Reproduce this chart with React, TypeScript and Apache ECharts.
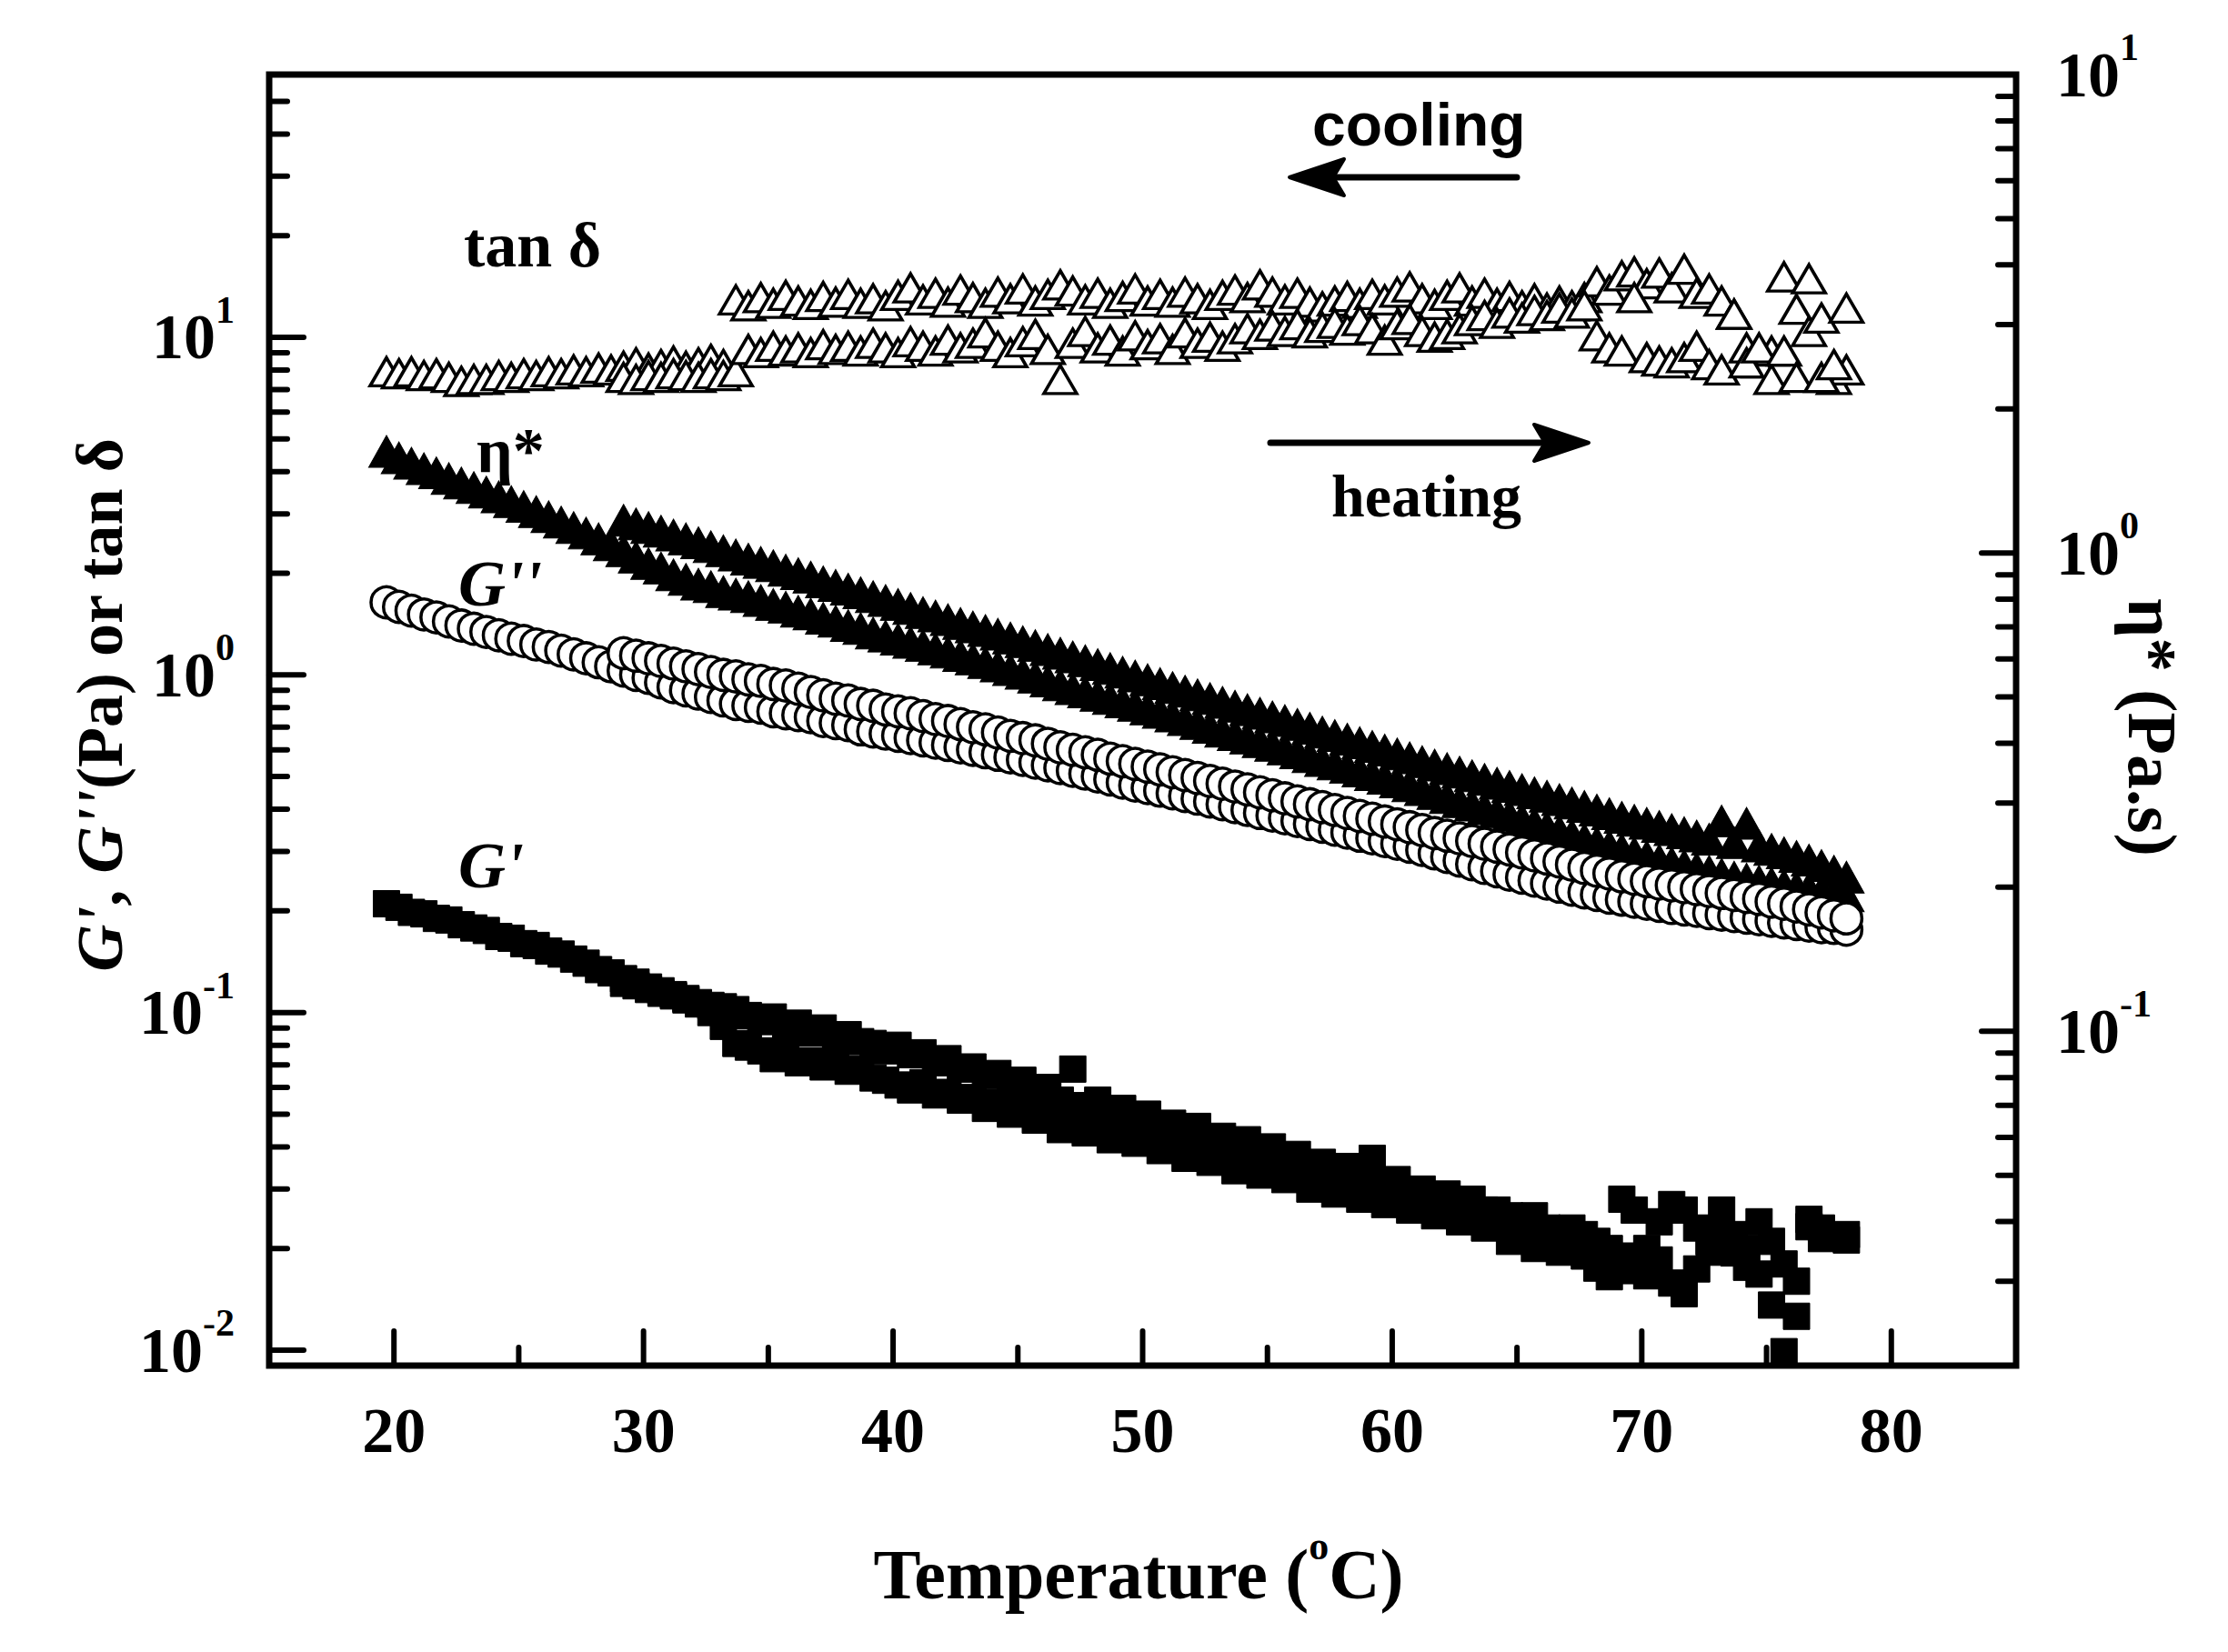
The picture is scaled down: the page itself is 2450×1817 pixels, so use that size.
import { useEffect, useRef } from 'react';
import * as echarts from 'echarts';

const SERIF = '"Liberation Serif", "Times New Roman", serif';
const SANS = '"Liberation Sans", Arial, sans-serif';

// heating run, temperature (°C)
const heatT = [
  19.7, 20.2, 20.7, 21.2, 21.7, 22.2, 22.7, 23.2, 23.7, 24.2,
  24.7, 25.2, 25.7, 26.2, 26.7, 27.2, 27.7, 28.2, 28.7, 29.2,
  29.7, 30.2, 30.7, 31.2, 31.7, 32.2, 32.7, 33.2, 33.7, 34.2,
  34.7, 35.2, 35.7, 36.2, 36.7, 37.2, 37.7, 38.2, 38.7, 39.2,
  39.7, 40.2, 40.7, 41.2, 41.7, 42.2, 42.7, 43.2, 43.7, 44.2,
  44.7, 45.2, 45.7, 46.2, 46.7, 47.2, 47.7, 48.2, 48.7, 49.2,
  49.7, 50.2, 50.7, 51.2, 51.7, 52.2, 52.7, 53.2, 53.7, 54.2,
  54.7, 55.2, 55.7, 56.2, 56.7, 57.2, 57.7, 58.2, 58.7, 59.2,
  59.7, 60.2, 60.7, 61.2, 61.7, 62.2, 62.7, 63.2, 63.7, 64.2,
  64.7, 65.2, 65.7, 66.2, 66.7, 67.2, 67.7, 68.2, 68.7, 69.2,
  69.7, 70.2, 70.7, 71.2, 71.7, 72.2, 72.7, 73.2, 73.7, 74.2,
  74.7, 75.2, 75.7, 76.2, 76.7, 77.2, 77.7, 78.2
];

// cooling run, temperature (°C)
const coolT = [
  29.2, 29.7, 30.2, 30.7, 31.2, 31.7, 32.2, 32.7, 33.2, 33.7,
  34.2, 34.7, 35.2, 35.7, 36.2, 36.7, 37.2, 37.7, 38.2, 38.7,
  39.2, 39.7, 40.2, 40.7, 41.2, 41.7, 42.2, 42.7, 43.2, 43.7,
  44.2, 44.7, 45.2, 45.7, 46.2, 46.7, 47.2, 47.7, 48.2, 48.7,
  49.2, 49.7, 50.2, 50.7, 51.2, 51.7, 52.2, 52.7, 53.2, 53.7,
  54.2, 54.7, 55.2, 55.7, 56.2, 56.7, 57.2, 57.7, 58.2, 58.7,
  59.2, 59.7, 60.2, 60.7, 61.2, 61.7, 62.2, 62.7, 63.2, 63.7,
  64.2, 64.7, 65.2, 65.7, 66.2, 66.7, 67.2, 67.7, 68.2, 68.7,
  69.2, 69.7, 70.2, 70.7, 71.2, 71.7, 72.2, 72.7, 73.2, 73.7,
  74.2, 74.7, 75.2, 75.7, 76.2, 76.7, 77.2, 77.7, 78.2
];

// G'' (Pa)
const gppHeat = [
  1.64, 1.59, 1.55, 1.51, 1.48, 1.44, 1.40, 1.37, 1.34, 1.31,
  1.28, 1.26, 1.23, 1.21, 1.18, 1.15, 1.12, 1.09, 1.06, 1.03,
  1.00, 0.98, 0.95, 0.92, 0.90, 0.88, 0.86, 0.84, 0.82, 0.81,
  0.80, 0.78, 0.77, 0.76, 0.75, 0.73, 0.72, 0.71, 0.69, 0.68,
  0.67, 0.66, 0.65, 0.64, 0.63, 0.62, 0.61, 0.60, 0.59, 0.58,
  0.57, 0.56, 0.55, 0.54, 0.53, 0.52, 0.51, 0.50, 0.49, 0.48,
  0.47, 0.462, 0.454, 0.446, 0.438, 0.43, 0.422, 0.414, 0.406, 0.398,
  0.39, 0.383, 0.376, 0.369, 0.362, 0.355, 0.348, 0.341, 0.334, 0.328,
  0.322, 0.316, 0.31, 0.303, 0.296, 0.289, 0.282, 0.275, 0.268, 0.262,
  0.256, 0.251, 0.246, 0.241, 0.236, 0.231, 0.227, 0.223, 0.219, 0.216,
  0.213, 0.21, 0.207, 0.204, 0.202, 0.2, 0.197, 0.195, 0.193, 0.191,
  0.189, 0.187, 0.185, 0.183, 0.181, 0.179, 0.178, 0.176
];
const gppCool = [
  1.16, 1.14, 1.12, 1.10, 1.08, 1.06, 1.04, 1.02, 1.00, 0.99,
  0.97, 0.96, 0.94, 0.93, 0.91, 0.89, 0.87, 0.85, 0.84, 0.82,
  0.81, 0.79, 0.78, 0.77, 0.755, 0.74, 0.73, 0.715, 0.70, 0.69,
  0.675, 0.66, 0.65, 0.64, 0.625, 0.61, 0.60, 0.59, 0.58, 0.565,
  0.555, 0.545, 0.535, 0.525, 0.515, 0.505, 0.495, 0.485, 0.476, 0.467,
  0.458, 0.449, 0.44, 0.431, 0.422, 0.414, 0.406, 0.398, 0.39, 0.382,
  0.375, 0.368, 0.361, 0.354, 0.347, 0.34, 0.334, 0.328, 0.322, 0.316,
  0.31, 0.304, 0.298, 0.292, 0.286, 0.28, 0.274, 0.268, 0.263, 0.258,
  0.253, 0.249, 0.245, 0.241, 0.238, 0.235, 0.232, 0.229, 0.226, 0.223,
  0.22, 0.217, 0.213, 0.21, 0.206, 0.202, 0.198, 0.194, 0.19
];

// η* (Pa.s), right axis
const etaHeat = [
  1.63, 1.58, 1.54, 1.50, 1.47, 1.43, 1.40, 1.37, 1.34, 1.31,
  1.28, 1.25, 1.22, 1.19, 1.16, 1.13, 1.10, 1.07, 1.04, 1.01,
  0.98, 0.95, 0.93, 0.90, 0.88, 0.86, 0.85, 0.83, 0.82, 0.81,
  0.795, 0.78, 0.77, 0.755, 0.745, 0.73, 0.72, 0.705, 0.695, 0.68,
  0.67, 0.66, 0.65, 0.64, 0.63, 0.62, 0.61, 0.60, 0.59, 0.58,
  0.57, 0.56, 0.55, 0.54, 0.53, 0.52, 0.512, 0.504, 0.496, 0.488,
  0.48, 0.472, 0.464, 0.456, 0.448, 0.44, 0.432, 0.424, 0.417, 0.41,
  0.403, 0.396, 0.389, 0.382, 0.375, 0.368, 0.362, 0.356, 0.35, 0.344,
  0.338, 0.332, 0.326, 0.32, 0.314, 0.308, 0.302, 0.297, 0.292, 0.287,
  0.282, 0.277, 0.272, 0.267, 0.262, 0.257, 0.252, 0.248, 0.244, 0.24,
  0.236, 0.232, 0.228, 0.225, 0.222, 0.219, 0.216, 0.213, 0.21, 0.208,
  0.206, 0.204, 0.202, 0.2, 0.198, 0.196, 0.194, 0.192
];
const etaCool = [
  1.17, 1.15, 1.13, 1.11, 1.09, 1.07, 1.05, 1.03, 1.01, 0.99,
  0.97, 0.955, 0.94, 0.92, 0.905, 0.89, 0.87, 0.855, 0.84, 0.825,
  0.81, 0.795, 0.78, 0.765, 0.75, 0.738, 0.725, 0.712, 0.70, 0.688,
  0.676, 0.664, 0.652, 0.64, 0.628, 0.617, 0.606, 0.595, 0.584, 0.573,
  0.563, 0.553, 0.543, 0.533, 0.523, 0.514, 0.505, 0.496, 0.487, 0.478,
  0.47, 0.462, 0.454, 0.446, 0.438, 0.43, 0.422, 0.415, 0.408, 0.401,
  0.394, 0.387, 0.38, 0.373, 0.366, 0.36, 0.354, 0.348, 0.342, 0.336,
  0.33, 0.325, 0.32, 0.315, 0.31, 0.305, 0.30, 0.295, 0.29, 0.285,
  0.28, 0.276, 0.272, 0.268, 0.264, 0.26, 0.256, 0.252, 0.275, 0.248,
  0.272, 0.244, 0.24, 0.236, 0.232, 0.228, 0.222, 0.216, 0.21
];

// G' (Pa)
const gpHeat = [
  0.210, 0.205, 0.198, 0.196, 0.190, 0.188, 0.182, 0.178, 0.175, 0.168,
  0.166, 0.160, 0.158, 0.152, 0.149, 0.144, 0.140, 0.134, 0.131, 0.126,
  0.123, 0.119, 0.116, 0.113, 0.110, 0.106, 0.100, 0.091, 0.081, 0.079,
  0.077, 0.073, 0.078, 0.071, 0.072, 0.069, 0.073, 0.067, 0.068, 0.064,
  0.063, 0.061, 0.059, 0.062, 0.057, 0.058, 0.055, 0.056, 0.052, 0.054,
  0.050, 0.052, 0.048, 0.049, 0.045, 0.047, 0.044, 0.046, 0.042, 0.043,
  0.041, 0.043, 0.039, 0.040, 0.037, 0.039, 0.036, 0.037, 0.034, 0.036,
  0.033, 0.034, 0.032, 0.033, 0.030, 0.032, 0.029, 0.031, 0.028, 0.030,
  0.027, 0.028, 0.026, 0.027, 0.025, 0.026, 0.024, 0.025, 0.023, 0.024,
  0.021, 0.022, 0.020, 0.021, 0.0195, 0.020, 0.019, 0.0175, 0.0165, 0.019,
  0.0172, 0.0166, 0.0185, 0.0158, 0.0147, 0.0174, 0.0195, 0.0218, 0.0194, 0.0176,
  0.0168, 0.0136, 0.0099, 0.0126, 0.0232, 0.0214, 0.0217, 0.0212
];
const gpCool = [
  0.122, 0.120, 0.117, 0.114, 0.112, 0.109, 0.107, 0.105, 0.104, 0.102,
  0.098, 0.094, 0.097, 0.091, 0.093, 0.087, 0.090, 0.084, 0.086, 0.082,
  0.081, 0.077, 0.080, 0.075, 0.076, 0.071, 0.073, 0.068, 0.069, 0.065,
  0.066, 0.061, 0.063, 0.058, 0.060, 0.055, 0.068, 0.053, 0.055, 0.051,
  0.052, 0.048, 0.050, 0.046, 0.047, 0.044, 0.046, 0.042, 0.043, 0.041,
  0.042, 0.039, 0.040, 0.037, 0.038, 0.035, 0.036, 0.034, 0.035, 0.032,
  0.037, 0.031, 0.032, 0.029, 0.030, 0.028, 0.029, 0.027, 0.028, 0.026,
  0.026, 0.025, 0.024, 0.025, 0.023, 0.022, 0.023, 0.022, 0.021, 0.020,
  0.028, 0.026, 0.020, 0.024, 0.027, 0.026, 0.023, 0.021, 0.026, 0.022,
  0.020, 0.024, 0.021, 0.018, 0.016, 0.0244, 0.023, 0.0217, 0.022
];

// tan δ
const tanHeat = [
  7.9, 7.8, 7.9, 7.7, 7.8, 7.6, 7.4, 7.5, 7.5, 7.7,
  7.6, 7.8, 7.7, 7.9, 7.8, 8.0, 7.9, 8.1, 8.0, 8.2,
  8.4, 8.1, 8.3, 8.5, 8.2, 8.4, 8.6, 8.3, 12.9, 12.4,
  13.1, 12.6, 13.3, 12.8, 12.5, 13.2, 12.7, 13.4, 12.6, 13.0,
  12.4, 13.3, 14.0, 12.9, 13.5, 12.7, 13.8, 13.1, 12.6, 13.6,
  13.0, 13.9, 12.8, 13.4, 14.3, 13.7, 12.9, 13.5, 12.6, 13.2,
  13.9, 12.8, 13.4, 12.7, 13.6, 13.0, 12.5, 13.3, 13.8, 13.1,
  14.3, 13.6, 12.9, 13.5, 12.7, 12.3, 12.8, 13.2, 12.6, 13.4,
  12.9, 13.6, 14.1, 13.0, 12.5, 13.3, 14.0, 12.8, 13.5, 12.6,
  13.2, 12.4, 13.0, 12.2, 12.8, 12.4, 13.1, 14.6, 13.8, 15.2,
  15.6, 14.4, 15.5, 14.0, 15.9, 13.5, 13.9, 12.8, 11.7, 9.3,
  8.4, 9.1, 15.1, 12.1, 10.4, 11.4, 7.5, 8.0
];
const tanCool = [
  7.6, 7.5, 7.7, 7.6, 7.8, 7.7, 7.6, 7.8, 7.7, 7.9,
  9.2, 9.0, 9.4, 9.1, 9.3, 9.0, 9.5, 9.2, 9.4, 9.1,
  9.6, 9.3, 9.0, 9.7, 9.4, 9.1, 9.8, 9.3, 9.6, 10.3,
  9.4, 9.0, 9.7, 10.2, 9.2, 7.5, 9.6, 10.4, 9.3, 9.8,
  9.1, 10.1, 9.5, 9.9, 9.2, 10.3, 9.6, 10.0, 9.4, 9.9,
  10.6, 10.2, 10.8, 10.4, 10.9, 10.3, 10.7, 11.0, 10.5, 11.2,
  10.6, 9.8, 10.9, 11.3, 10.4, 10.0, 10.2, 10.6, 11.2, 11.6,
  11.0, 11.8, 11.4, 12.0, 11.6, 12.2, 11.8, 12.4, 10.1, 9.3,
  9.1, 13.1, 8.7, 8.5, 8.4, 8.7, 9.4, 8.3, 8.0, 11.7,
  8.4, 9.3, 7.5, 9.1, 7.6, 14.9, 7.6, 8.3, 12.2
];

// axis ticks
const xLabels = [20, 30, 40, 50, 60, 70, 80];
const xMajorTicks = [20, 30, 40, 50, 60, 70, 80];
const xMinorTicks = [25, 35, 45, 55, 65, 75];
const leftMajorTicks = [0.01, 0.1, 1, 10];
const leftMinorTicks = [
  0.02, 0.03, 0.04, 0.05, 0.06, 0.07, 0.08, 0.09,
  0.2, 0.3, 0.4, 0.5, 0.6, 0.7, 0.8, 0.9,
  2, 3, 4, 5, 6, 7, 8, 9,
  20, 30, 40, 50
];
const rightMajorTicks = [0.1, 1];
const rightMinorTicks = [
  0.03, 0.04, 0.05, 0.06, 0.07, 0.08, 0.09,
  0.2, 0.3, 0.4, 0.5, 0.6, 0.7, 0.8, 0.9,
  2, 3, 4, 5, 6, 7, 8, 9
];

const X_MIN = 15;
const X_MAX = 85;
const YL_MIN = 0.009;
const YL_MAX = 60;
const YR_MIN = 0.02;
const YR_MAX = 10;

const pairs = (ts: number[], vs: number[]) => ts.map((t, i) => [t, vs[i]]);

const powLabel = (v: number) => {
  const e = Math.log10(v);
  const r = Math.round(e);
  if (Math.abs(e - r) > 1e-6) return '';
  return `{b|10}{s|${r}}`;
};

const labelRich = {
  b: { fontFamily: SERIF, fontWeight: 'bold', fontSize: 70, lineHeight: 70, color: '#000' },
  s: { fontFamily: SERIF, fontWeight: 'bold', fontSize: 42, lineHeight: 42, color: '#000', padding: [0, 0, 60, 0] }
};

function scatter(data: number[][], symbol: string, size: any, filled: boolean, yAxisIndex: number) {
  return {
    type: 'scatter',
    xAxisIndex: 0,
    yAxisIndex,
    data,
    symbol,
    symbolSize: size,
    silent: true,
    itemStyle: filled
      ? { color: '#000', borderColor: '#000', borderWidth: 1, opacity: 1 }
      : { color: '#fff', borderColor: '#000', borderWidth: 3.5, opacity: 1 }
  };
}

// ticks drawn inward from the frame, through the axis scales
function ticks(values: number[], side: 'x' | 'left' | 'right', len: number) {
  return {
    type: 'custom',
    xAxisIndex: 0,
    yAxisIndex: side === 'right' ? 1 : 0,
    silent: true,
    z: 5,
    data: values.map((v) => (side === 'x' ? [v, YL_MIN] : side === 'left' ? [X_MIN, v] : [X_MAX, v])),
    renderItem: (_p: any, api: any) => {
      const p = api.coord([api.value(0), api.value(1)]);
      let x2 = p[0];
      let y2 = p[1];
      if (side === 'x') y2 -= len;
      else if (side === 'left') x2 += len;
      else x2 -= len;
      return {
        type: 'line',
        shape: { x1: p[0], y1: p[1], x2, y2 },
        style: { stroke: '#000', lineWidth: 6, lineCap: 'round' }
      };
    }
  };
}

function txt(text: string, x: number, y: number, font: string, extra: any = {}) {
  return {
    type: 'text',
    x,
    y,
    z: 20,
    ...extra,
    style: {
      text,
      font,
      fill: '#000',
      textAlign: extra.align || 'left',
      align: extra.align || 'left',
      textVerticalAlign: 'middle',
      verticalAlign: 'middle',
      ...(extra.style || {})
    }
  };
}

export default function App() {
  const ref = useRef<HTMLDivElement>(null);

  useEffect(() => {
    document.body.style.margin = '0';
    if (!ref.current) return;
    const chart = echarts.init(ref.current, undefined, { renderer: 'svg' });

    const option = {
      animation: false,
      backgroundColor: '#fff',
      grid: {
        left: 296,
        top: 82,
        width: 1921,
        height: 1420,
        show: true,
        borderColor: '#000',
        borderWidth: 7,
        backgroundColor: 'transparent'
      },
      xAxis: {
        type: 'value',
        min: X_MIN,
        max: X_MAX,
        splitNumber: 7,
        axisLine: { show: false },
        axisTick: { show: false },
        splitLine: { show: false },
        axisLabel: {
          fontFamily: SERIF,
          fontWeight: 'bold',
          fontSize: 70,
          color: '#000',
          margin: 36,
          showMinLabel: false,
          showMaxLabel: false,
          formatter: (v: number) => (xLabels.includes(v) ? String(v) : '')
        }
      },
      yAxis: [
        {
          type: 'log',
          logBase: 10,
          min: YL_MIN,
          max: YL_MAX,
          position: 'left',
          axisLine: { show: false },
          axisTick: { show: false },
          splitLine: { show: false },
          axisLabel: { margin: 38, formatter: powLabel, rich: labelRich, showMinLabel: false }
        },
        {
          type: 'log',
          logBase: 10,
          min: YR_MIN,
          max: YR_MAX,
          position: 'right',
          axisLine: { show: false },
          axisTick: { show: false },
          splitLine: { show: false },
          axisLabel: { margin: 44, formatter: powLabel, rich: labelRich, showMinLabel: false }
        }
      ],
      series: [
        scatter(pairs(heatT, etaHeat), 'triangle', [39, 35], true, 1),
        scatter(pairs(coolT, etaCool), 'triangle', [39, 35], true, 1),
        scatter(pairs(heatT, gppHeat), 'circle', 34, false, 0),
        scatter(pairs(coolT, gppCool), 'circle', 34, false, 0),
        scatter(pairs(heatT, gpHeat), 'rect', 29, true, 0),
        scatter(pairs(coolT, gpCool), 'rect', 29, true, 0),
        scatter(pairs(heatT, tanHeat), 'triangle', [36, 31], false, 0),
        scatter(pairs(coolT, tanCool), 'triangle', [36, 31], false, 0),
        ticks(xMajorTicks, 'x', 38),
        ticks(xMinorTicks, 'x', 20),
        ticks(leftMajorTicks, 'left', 38),
        ticks(leftMinorTicks, 'left', 20),
        ticks(rightMajorTicks, 'right', 38),
        ticks(rightMinorTicks, 'right', 20)
      ],
      graphic: [
        // annotations
        txt('tan δ', 510, 269, `bold 70px ${SERIF}`),
        txt('η*', 524, 495, `bold 70px ${SERIF}`),
        txt("G''", 504, 642, `italic bold 72px ${SERIF}`),
        txt("G'", 504, 952, `italic bold 72px ${SERIF}`),
        txt('cooling', 1443, 137, `bold 66px ${SANS}`),
        txt('heating', 1464, 545, `bold 66px ${SERIF}`),
        // cooling arrow
        {
          type: 'line',
          z: 20,
          shape: { x1: 1466, y1: 195, x2: 1668, y2: 195 },
          style: { stroke: '#000', lineWidth: 7, lineCap: 'round' }
        },
        {
          type: 'polygon',
          z: 20,
          shape: { points: [[1418, 195], [1478, 175], [1466, 195], [1478, 215]] },
          style: { fill: '#000', stroke: '#000', lineWidth: 4, lineJoin: 'round' }
        },
        // heating arrow
        {
          type: 'line',
          z: 20,
          shape: { x1: 1397, y1: 487, x2: 1700, y2: 487 },
          style: { stroke: '#000', lineWidth: 7, lineCap: 'round' }
        },
        {
          type: 'polygon',
          z: 20,
          shape: { points: [[1747, 487], [1687, 467], [1699, 487], [1687, 507]] },
          style: { fill: '#000', stroke: '#000', lineWidth: 4, lineJoin: 'round' }
        },
        // axis titles
        txt('{b|Temperature (}{s|o}{b|C)}', 1252, 1731, `bold 78px ${SERIF}`, {
          align: 'center',
          style: {
            rich: {
              b: { fontFamily: SERIF, fontWeight: 'bold', fontSize: 78, lineHeight: 78, fill: '#000' },
              s: { fontFamily: SERIF, fontWeight: 'bold', fontSize: 44, lineHeight: 44, fill: '#000', padding: [0, 0, 62, 0] }
            }
          }
        }),
        txt("{i|G'}{b|, }{i|G''}{b|(Pa) or tan δ}", 110, 775, `bold 72px ${SERIF}`, {
          align: 'center',
          rotation: Math.PI / 2,
          style: {
            rich: {
              i: { fontFamily: SERIF, fontWeight: 'bold', fontStyle: 'italic', fontSize: 72, fill: '#000' },
              b: { fontFamily: SERIF, fontWeight: 'bold', fontSize: 72, fill: '#000' }
            }
          }
        }),
        txt('η* (Pa.s)', 2367, 800, `bold 76px ${SERIF}`, {
          align: 'center',
          rotation: -Math.PI / 2
        })
      ]
    };

    chart.setOption(option as any);
    return () => chart.dispose();
  }, []);

  return <div ref={ref} style={{ width: 2450, height: 1817, background: '#fff' }} />;
}
